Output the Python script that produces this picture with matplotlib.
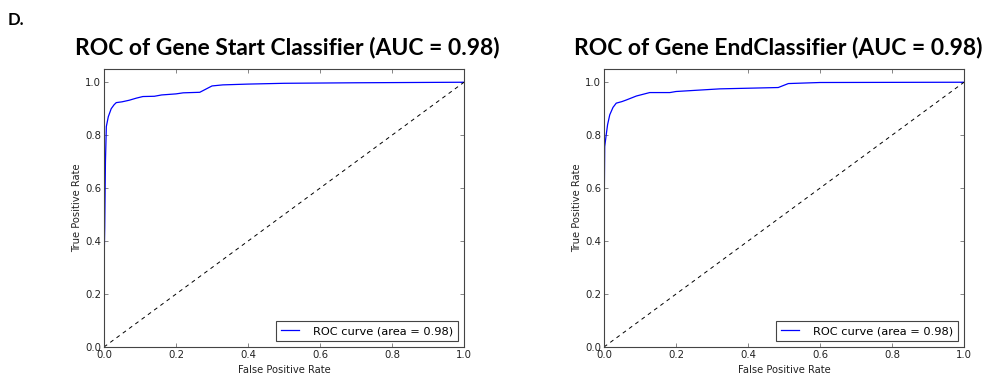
import matplotlib

matplotlib.use("Agg")
import matplotlib.pyplot as plt

# ROC points (FPR, TPR)
start_fpr = [0.0, 0.0, 0.002, 0.004, 0.0065, 0.012, 0.02, 0.028, 0.034, 0.05, 0.07,
             0.09, 0.108, 0.14, 0.16, 0.2, 0.22, 0.266, 0.3, 0.33, 0.4, 0.5, 0.7, 1.0]
start_tpr = [0.0, 0.3, 0.45, 0.7, 0.833, 0.87, 0.9, 0.915, 0.923, 0.926, 0.932,
             0.94, 0.946, 0.947, 0.952, 0.956, 0.96, 0.962, 0.986, 0.99, 0.993, 0.996, 0.998, 1.0]

end_fpr = [0.0, 0.0, 0.001, 0.002, 0.006, 0.01, 0.016, 0.025, 0.034, 0.05, 0.062,
           0.09, 0.127, 0.183, 0.2, 0.322, 0.484, 0.512, 0.6, 1.0]
end_tpr = [0.0, 0.33, 0.6, 0.757, 0.8, 0.84, 0.877, 0.905, 0.921, 0.927, 0.933,
           0.948, 0.961, 0.961, 0.965, 0.975, 0.98, 0.995, 0.999, 1.0]

titles = ["ROC of Gene Start Classifier (AUC = 0.98)",
          "ROC of Gene EndClassifier (AUC = 0.98)"]
legend_label = "ROC curve (area = 0.98)"
ticks = [0.0, 0.2, 0.4, 0.6, 0.8, 1.0]

fig = plt.figure(figsize=(9.9, 3.77), dpi=100)
fig.patch.set_facecolor("white")

axes_boxes = [(104 / 990, 30 / 377, 360 / 990, 278 / 377),
              (604 / 990, 30 / 377, 360 / 990, 278 / 377)]
title_x = [287 / 990, 778 / 990]
curves = [(start_fpr, start_tpr), (end_fpr, end_tpr)]

for box, tx, title, (fpr, tpr) in zip(axes_boxes, title_x, titles, curves):
    ax = fig.add_axes(box)
    ax.plot(fpr, tpr, color="#0000ff", linewidth=0.9, label=legend_label)
    ax.plot([0, 1], [0, 1], color="black", linestyle="--", dashes=(4, 4), linewidth=0.7)
    ax.set_xlim(0, 1)
    ax.set_ylim(0, 1.05)
    ax.set_xticks(ticks)
    ax.set_yticks(ticks)
    ax.set_xticklabels([f"{t:.1f}" for t in ticks])
    ax.set_yticklabels([f"{t:.1f}" for t in ticks])
    ax.tick_params(direction="in", top=True, right=True, length=3, width=0.5,
                   color="#555555", labelsize=7.3, labelcolor="#222222", pad=2)
    for s in ax.spines.values():
        s.set_color("#444444")
        s.set_linewidth(0.8)
    ax.set_xlabel("False Positive Rate", fontsize=7.2, color="#222222", labelpad=4)
    ax.set_ylabel("True Positive Rate", fontsize=7.2, color="#222222", labelpad=2)
    leg = ax.legend(loc="lower right", fontsize=8.2, fancybox=False, framealpha=1,
                    handlelength=1.6, handletextpad=1.2, borderpad=0.45,
                    borderaxespad=0.5)
    leg.get_frame().set_edgecolor("#444444")
    leg.get_frame().set_linewidth(0.8)
    fig.text(tx, 1 - 54 / 377, title, ha="center", va="baseline",
             fontsize=16.5, fontweight="bold", family="Lato")

fig.text(8 / 990, 1 - 25 / 377, "D.", ha="left", va="baseline",
         fontsize=12, fontweight="bold", family="Lato")

fig.savefig("out.png", dpi=100, facecolor="white")
